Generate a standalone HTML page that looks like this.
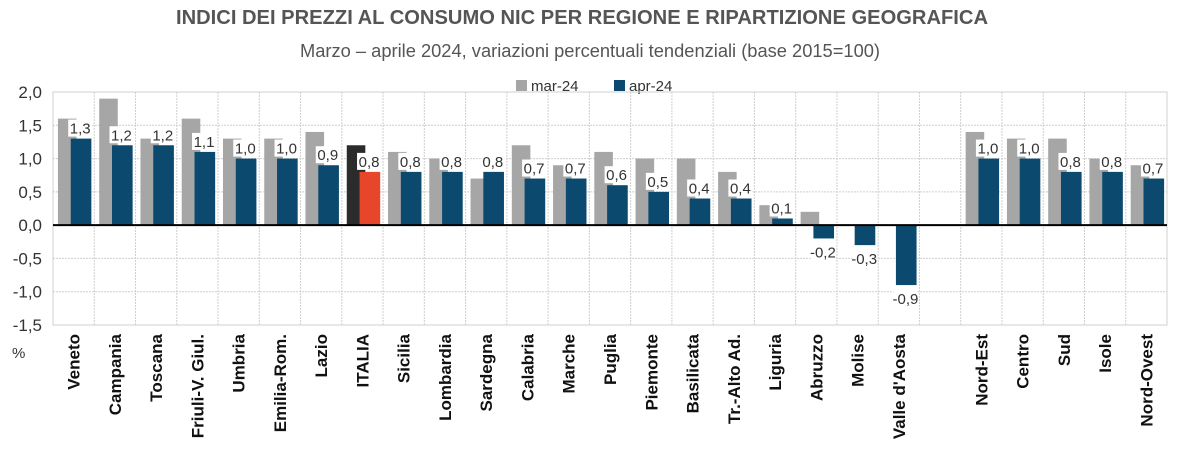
<!DOCTYPE html>
<html><head><meta charset="utf-8"><style>
body{margin:0;background:#fff;width:1178px;height:459px;overflow:hidden;font-family:"Liberation Sans",sans-serif}
</style></head><body>
<svg id="chart" width="1178" height="459" xmlns="http://www.w3.org/2000/svg" font-family="Liberation Sans, sans-serif">
<text x="582" y="24" text-anchor="middle" font-size="20" font-weight="bold" fill="#555" textLength="812" lengthAdjust="spacingAndGlyphs">INDICI DEI PREZZI AL CONSUMO NIC PER REGIONE E RIPARTIZIONE GEOGRAFICA</text>
<text x="590" y="57" text-anchor="middle" font-size="18" fill="#555" textLength="580" lengthAdjust="spacingAndGlyphs">Marzo – aprile 2024, variazioni percentuali tendenziali (base 2015=100)</text>
<g>
<rect x="516" y="80" width="11" height="11" fill="#a6a6a6"/>
<text x="531" y="91" font-size="15" fill="#333">mar-24</text>
<rect x="614" y="80" width="11" height="11" fill="#0b4a6e"/>
<text x="629" y="91" font-size="15" fill="#333">apr-24</text>
</g>
<g id="grid"></g><g id="bars"></g><g id="labels"></g>
<text x="12" y="358" font-size="15" fill="#333">%</text>
</svg>
<script>
const categories=["Veneto","Campania","Toscana","Friuli-V. Giul.","Umbria","Emilia-Rom.","Lazio","ITALIA","Sicilia","Lombardia","Sardegna","Calabria","Marche","Puglia","Piemonte","Basilicata","Tr.-Alto Ad.","Liguria","Abruzzo","Molise","Valle d'Aosta","","Nord-Est","Centro","Sud","Isole","Nord-Ovest"];
const marValues=[1.6,1.9,1.3,1.6,1.3,1.3,1.4,1.2,1.1,1.0,0.7,1.2,0.9,1.1,1.0,1.0,0.8,0.3,0.2,0.0,0.0,null,1.4,1.3,1.3,1.0,0.9];
const aprValues=[1.3,1.2,1.2,1.1,1.0,1.0,0.9,0.8,0.8,0.8,0.8,0.7,0.7,0.6,0.5,0.4,0.4,0.1,-0.2,-0.3,-0.9,null,1.0,1.0,0.8,0.8,0.7];
const yTicks=[2.0,1.5,1.0,0.5,0.0,-0.5,-1.0,-1.5];
const NS="http://www.w3.org/2000/svg";
const L=53,R=1167,T=92,B=325,yMin=-1.5,yMax=2.0;
const slot=(R-L)/categories.length;
const y=v=>T+(yMax-v)/(yMax-yMin)*(B-T);
const x=i=>L+i*slot;
function mk(tag,attrs,parent){const e=document.createElementNS(NS,tag);for(const k in attrs)e.setAttribute(k,attrs[k]);parent.appendChild(e);return e;}
const grid=document.getElementById('grid'),bars=document.getElementById('bars'),labels=document.getElementById('labels');
mk('rect',{x:L,y:T,width:R-L,height:B-T,fill:'none',stroke:'#d0d0d0'},grid);
yTicks.forEach(t=>{
  const ln=mk('line',{x1:L,x2:R,y1:y(t),y2:y(t),stroke:'#cfcfcf','stroke-dasharray':'2,1'},grid);
  
  
  const tx=mk('text',{x:42,y:y(t)+6,'text-anchor':'end','font-size':17,fill:'#333'},grid);
  tx.textContent=t.toFixed(1).replace('.',',');
  
  
});
for(let i=1;i<categories.length;i++){
  const ln=mk('line',{x1:x(i),x2:x(i),y1:T,y2:B,stroke:'#cfcfcf','stroke-dasharray':'2,1'},grid);
  
  
}
categories.forEach((c,i)=>{
  const x0=x(i);
  if(marValues[i]!==null){
    const v=marValues[i];
    const r=mk('rect',{x:x0+0.12*slot,width:0.45*slot,y:Math.min(y(v),y(0)),height:Math.abs(y(v)-y(0)),fill:c==='ITALIA'?'#2b2b2b':'#a6a6a6'},bars);
    
    
  }
  if(aprValues[i]!==null){
    const v=aprValues[i];
    const r=mk('rect',{x:x0+0.43*slot,width:0.5*slot,y:Math.min(y(v),y(0)),height:Math.abs(y(v)-y(0)),fill:c==='ITALIA'?'#e8462a':'#0b4a6e'},bars);
    
    
    const lx=x0+0.66*slot, ly=v>=0?y(v)-5:y(v)+19;
    const bg=mk('rect',{x:lx-12,y:ly-14,width:24,height:17,fill:'#fff'},labels);
    
    
    const lb=mk('text',{x:lx,y:ly,'text-anchor':'middle','font-size':15,fill:'#333'},labels);
    lb.textContent=v.toFixed(1).replace('.',',');
    
    
  }
  if(c){
    const cx=x0+slot/2+6;
    const tx=mk('text',{x:cx,y:334,'text-anchor':'end','font-size':17,'font-weight':'bold',fill:'#111',transform:`rotate(-90 ${cx} 334)`},labels);
    tx.textContent=c;
    
    
  }
});
const z=mk('line',{x1:L,x2:R,y1:y(0),y2:y(0),stroke:'#000','stroke-width':2},labels);


</script>
</body></html>
